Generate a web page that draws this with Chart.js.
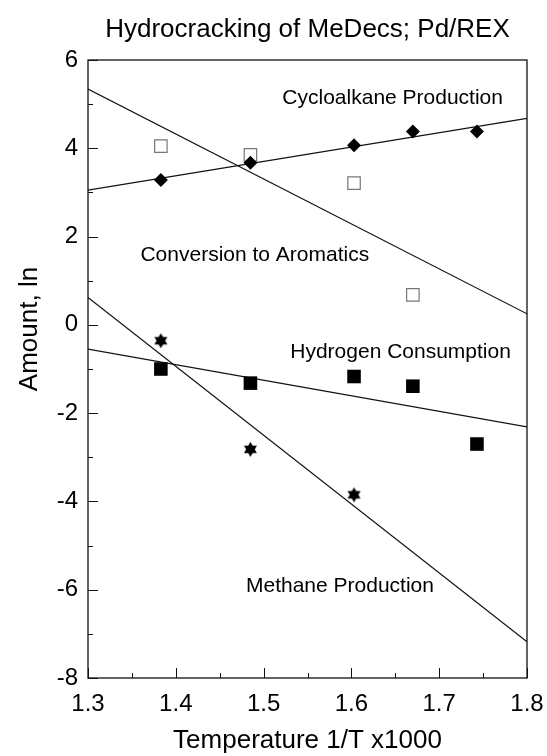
<!DOCTYPE html>
<html>
<head>
<meta charset="utf-8">
<script src="https://cdn.jsdelivr.net/npm/chart.js@4.4.1/dist/chart.umd.min.js"></script>
<style>
  html, body { margin: 0; padding: 0; background: #fff; }
  canvas { display: block; }
</style>
</head>
<body>
<canvas id="c" width="547" height="756"></canvas>
<script>
// ---------------- DATA ----------------
const chartTitle = "Hydrocracking of MeDecs; Pd/REX";
const xAxisTitle = "Temperature 1/T x1000";
const yAxisTitle = "Amount, ln";

const xTickValues = [1.3, 1.4, 1.5, 1.6, 1.7, 1.8];
const yTickValues = [-8, -6, -4, -2, 0, 2, 4, 6];

const invTemp = [1.383, 1.485, 1.603, 1.670, 1.743];

const cycloalkane = [3.28, 3.67, 4.07, 4.38, 4.38];
const aromatics   = [4.05, 3.85, 3.21, 0.68];
const methane     = [-0.36, -2.82, -3.85];
const hydrogen    = [-1.00, -1.32, -1.17, -1.39, -2.70];

// fitted lines, read at x = 1.3 and x = 1.8
const fitX = [1.3, 1.8];
const cycloFit    = [3.05, 4.68];
const aromaticsFit = [5.34, 0.25];
const hydrogenFit = [-0.55, -2.31];
const methaneFit  = [0.62, -7.18];

// in-plot label texts and their anchor (data coordinates)
const labelTexts = ["Cycloalkane Production", "Conversion to Aromatics", "Hydrogen Consumption", "Methane Production"];
const labelX = [1.647, 1.490, 1.656, 1.587];
const labelY = [5.14, 1.57, -0.63, -5.93];

// ---------------- HELPERS ----------------
const FONT = "'Liberation Sans', Arial, Helvetica, sans-serif";
const pts = (xs, ys) => ys.map((v, i) => ({ x: xs[i], y: v }));

function makeStar(r) {
  const s = Math.ceil(r * 2 + 2);
  const c = document.createElement('canvas');
  c.width = s; c.height = s;
  const g = c.getContext('2d');
  g.fillStyle = '#000';
  const cx = s / 2, cy = s / 2;
  [[-90, 30, 150], [90, 210, 330]].forEach(tri => {
    g.beginPath();
    tri.forEach((a, i) => {
      const rad = a * Math.PI / 180;
      const px = cx + r * Math.cos(rad), py = cy + r * Math.sin(rad);
      i ? g.lineTo(px, py) : g.moveTo(px, py);
    });
    g.closePath();
    g.fill();
  });
  return c;
}
const starImg = makeStar(7.5);

const lineStyle = {
  showLine: true, borderColor: '#111', borderWidth: 1.2,
  pointRadius: 0, pointHoverRadius: 0, fill: false
};

const decor = {
  id: 'decor',
  afterDraw(chart) {
    const { ctx, chartArea: a, scales: { x, y } } = chart;
    ctx.save();
    ctx.strokeStyle = '#111';
    ctx.lineWidth = 1.3;
    ctx.strokeRect(a.left, a.top, a.right - a.left, a.bottom - a.top);
    ctx.lineWidth = 1;
    // inward x ticks (major 0.1, minor 0.05)
    const xmin = x.min, xmax = x.max;
    const nx = Math.round((xmax - xmin) / 0.05);
    for (let i = 0; i <= nx; i++) {
      const px = Math.round(x.getPixelForValue(xmin + i * 0.05)) + 0.5;
      const len = i % 2 === 0 ? 10 : 5;
      ctx.beginPath(); ctx.moveTo(px, a.bottom); ctx.lineTo(px, a.bottom - len); ctx.stroke();
    }
    // inward y ticks (major 2, minor 1)
    for (let v = y.min; v <= y.max; v++) {
      const py = Math.round(y.getPixelForValue(v)) + 0.5;
      const len = (v % 2 === 0) ? 10 : 5;
      ctx.beginPath(); ctx.moveTo(a.left, py); ctx.lineTo(a.left + len, py); ctx.stroke();
    }
    // in-plot labels
    ctx.fillStyle = '#000';
    ctx.font = `21px ${FONT}`;
    ctx.textAlign = 'center';
    ctx.textBaseline = 'middle';
    labelTexts.forEach((t, i) => {
      ctx.fillText(t, x.getPixelForValue(labelX[i]), y.getPixelForValue(labelY[i]));
    });
    // chart title centred over plot area
    ctx.font = `26px ${FONT}`;
    ctx.textBaseline = 'alphabetic';
    ctx.fillText(chartTitle, (a.left + a.right) / 2, 37);
    // y axis title
    ctx.save();
    ctx.translate(30, 329);
    ctx.rotate(-Math.PI / 2);
    ctx.textBaseline = 'middle';
    ctx.fillText(yAxisTitle, 0, 0);
    ctx.restore();
    ctx.restore();
  }
};

new Chart(document.getElementById('c'), {
  type: 'scatter',
  data: {
    datasets: [
      { label: 'Cycloalkane', data: pts(invTemp, cycloalkane), pointStyle: 'rectRot', pointRadius: 7,
        backgroundColor: '#000', borderColor: '#000', borderWidth: 0 },
      { label: 'Aromatics', data: pts(invTemp, aromatics), pointStyle: 'rect', pointRadius: 8.8,
        backgroundColor: 'rgba(0,0,0,0)', borderColor: '#777', borderWidth: 1.2 },
      { label: 'Hydrogen', data: pts(invTemp, hydrogen), pointStyle: 'rect', pointRadius: 9.6,
        backgroundColor: '#000', borderColor: '#000', borderWidth: 0 },
      { label: 'Methane', data: pts(invTemp, methane), pointStyle: starImg, pointRadius: 7.5 },
      Object.assign({ label: 'Cyclo fit', data: pts(fitX, cycloFit) }, lineStyle),
      Object.assign({ label: 'Arom fit', data: pts(fitX, aromaticsFit) }, lineStyle),
      Object.assign({ label: 'H2 fit', data: pts(fitX, hydrogenFit) }, lineStyle),
      Object.assign({ label: 'CH4 fit', data: pts(fitX, methaneFit) }, lineStyle)
    ]
  },
  options: {
    responsive: false,
    animation: false,
    devicePixelRatio: 1,
    layout: { padding: { top: 60, right: 20, left: 0, bottom: 0 } },
    plugins: { legend: { display: false }, tooltip: { enabled: false }, title: { display: false } },
    scales: {
      x: {
        type: 'linear', min: 1.3, max: 1.8,
        afterBuildTicks: s => { s.ticks = xTickValues.map(v => ({ value: v })); },
        afterFit: s => { s.height = 78; s.paddingLeft = 0; s.paddingRight = 0; },
        grid: { display: false, drawTicks: false },
        border: { display: false },
        ticks: { color: '#000', font: { family: FONT, size: 24 }, padding: 12,
                 maxRotation: 0, autoSkip: false, callback: v => Number(v).toFixed(1) },
        title: { display: true, text: xAxisTitle, color: '#000', font: { family: FONT, size: 26 },
                 padding: { top: 0, bottom: 0 } }
      },
      y: {
        type: 'linear', min: -8, max: 6,
        afterBuildTicks: s => { s.ticks = yTickValues.map(v => ({ value: v })); },
        afterFit: s => { s.width = 88; s.paddingTop = 0; s.paddingBottom = 0; },
        grid: { display: false, drawTicks: false },
        border: { display: false },
        ticks: { color: '#000', font: { family: FONT, size: 24 }, padding: 10, autoSkip: false,
                 callback: v => String(v) }
      }
    }
  },
  plugins: [decor]
});
</script>
</body>
</html>
